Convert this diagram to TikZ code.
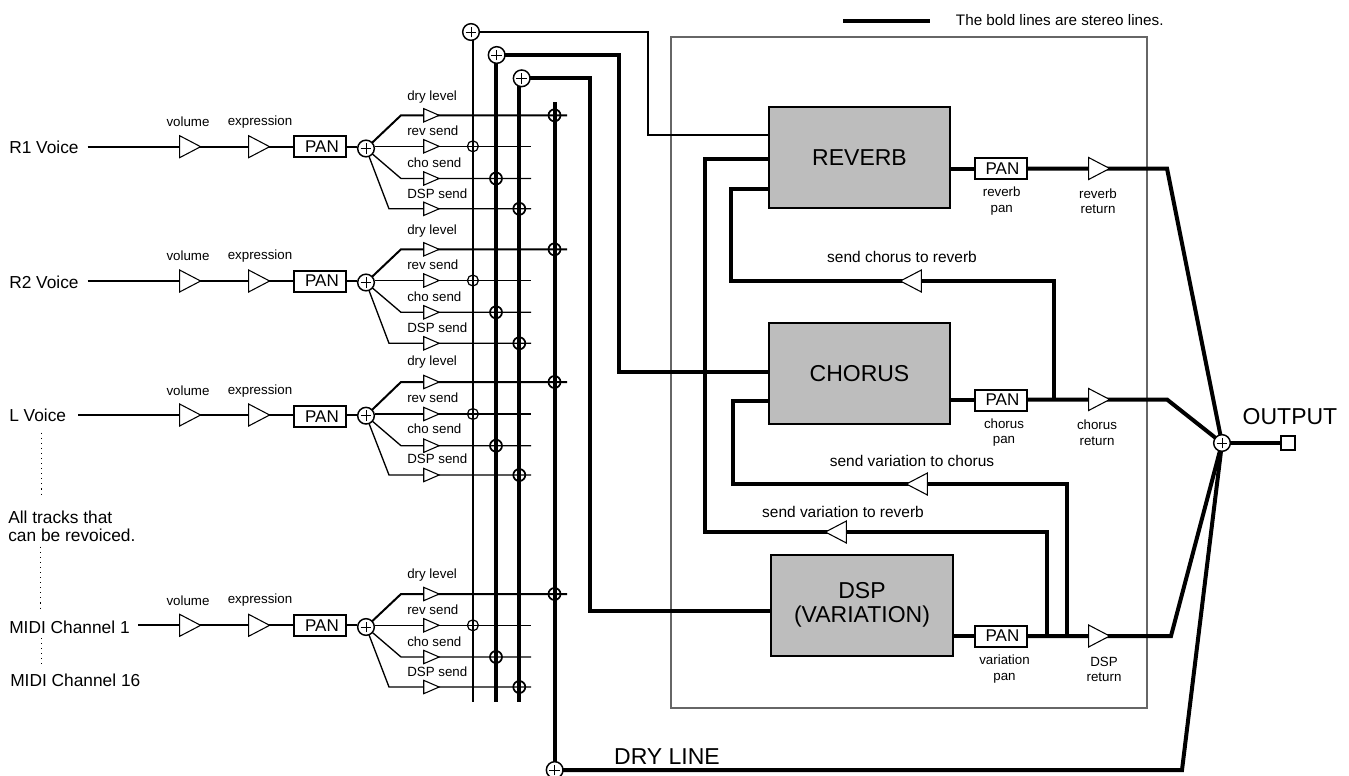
\documentclass[tikz,border=0pt]{standalone}
\usepackage{fontspec}
\setmainfont{Liberation Sans}
\usetikzlibrary{shapes.geometric,backgrounds}
\tikzset{
  bold/.style={line width=3pt,line join=miter},
  medium/.style={line width=1.5pt,line join=miter},
  fine/.style={line width=1pt,line join=miter},
  tri/.style={draw,fill=white,line width=0.8pt,shape=isosceles triangle,isosceles triangle stretches,inner sep=0pt,minimum width=16.5pt,minimum height=15.75pt,anchor=apex},
  bigtri/.style={tri,minimum width=16.5pt,minimum height=15.75pt},
  smalltri/.style={tri,minimum width=10pt,minimum height=11.5pt},
  lefttri/.style={tri,shape border rotate=180},
  plus/.style={path picture={\draw[line width=0.75pt] ([xshift=-#1pt]path picture bounding box.center)--([xshift=#1pt]path picture bounding box.center) ([yshift=-#1pt]path picture bounding box.center)--([yshift=#1pt]path picture bounding box.center);}},
  sumnode/.style={circle,draw,fill=white,line width=1.1pt,inner sep=0pt,minimum size=12.5pt,plus=4},
  cross/.style={circle,draw,line width=1.3pt,inner sep=0pt,minimum size=9pt},
  thincross/.style={circle,draw,line width=0.9pt,inner sep=0pt,minimum size=8.2pt},
  panbox/.style={draw,fill=white,line width=1.5pt,inner sep=0pt,minimum width=39pt,minimum height=15.75pt,font=\fontsize{12.75pt}{14pt}\selectfont},
  fxbox/.style={draw,fill=black!26,line width=1.5pt,inner sep=0pt,minimum width=136pt,minimum height=75.75pt,align=center,font=\fontsize{17.25pt}{18.5pt}\selectfont},
  lbl/.style={inner sep=0pt,font=\fontsize{13pt}{13.5pt}\selectfont,align=left},
  small/.style={inner sep=0pt,font=\fontsize{10pt}{11.4pt}\selectfont,align=center},
  sendlbl/.style={inner sep=0pt,anchor=west,font=\fontsize{10pt}{11pt}\selectfont},
  med/.style={inner sep=0pt,font=\fontsize{11.6pt}{13pt}\selectfont},
  big/.style={inner sep=0pt,font=\fontsize{17.25pt}{19pt}\selectfont},
  dots/.style={line width=0.7pt,dash pattern=on 0.8pt off 3pt},
}
\begin{document}
\begin{tikzpicture}[x=0.75pt,y=-0.75pt]
\useasboundingbox (0,0) rectangle (1349,775);
\clip (0,0) rectangle (1349,775);

% buses' summing points
\node[sumnode] (sumA) at (471,32) {};
\node[sumnode] (sumB) at (496.7,55) {};
\node[sumnode] (sumC) at (521.7,78.3) {};
\node[sumnode] (sumD) at (554.7,770) {};
\coordinate (busAb) at (472.7,702);
\coordinate (busBb) at (496,702);
\coordinate (busCb) at (519.3,702);
\coordinate (busDt) at (554.7,102);

% effect blocks
\node[fxbox] (reverb) at (859.5,157.5) {REVERB};
\node[fxbox] (chorus) at (859.5,373.5) {CHORUS};
\node[fxbox] (dsp) at (862,605) {DSP\\(VARIATION)};

\node[panbox] (panR) at (1000.5,168.5) {\hspace{3pt}PAN};
\node[panbox] (panC) at (1000.5,400) {\hspace{3pt}PAN};
\node[panbox] (panD) at (1000.5,636) {\hspace{3pt}PAN};
\node[small] at (1001.7,201) {reverb\\pan};
\node[small] at (1098,201) {reverb\\return};
\node[small] at (1004,432.7) {chorus\\pan};
\node[small] at (1097,432.7) {chorus\\return};
\node[small] at (1004.5,669) {variation\\pan};
\node[small] at (1104,669) {DSP\\return};

\node[bigtri] (retR) at (1111,168.5) {};
\node[bigtri] (retC) at (1111,399.5) {};
\node[bigtri] (retD) at (1111,636) {};
\node[lefttri] (sendCR) at (899,281) {};
\node[lefttri] (sendVC) at (905,484) {};
\node[lefttri] (sendVR) at (824,532) {};
\node[med] at (902,257) {send chorus to reverb};
\node[med] at (912,461) {send variation to chorus};
\node[med] at (843,512) {send variation to reverb};

\node[sumnode] (sumOut) at (1222,443) {};
\node[draw,fill=white,line width=1.5pt,inner sep=0pt,minimum size=10.5pt] (out) at (1288,443) {};
\node[big] at (1290,417) {OUTPUT};
\node[big] at (667,757) {DRY LINE};
\node[med,anchor=west,font=\fontsize{11.43pt}{13pt}\selectfont] (legend) at (955.7,20.5) {The bold lines are stereo lines.};
\coordinate (legA) at (843,21);
\coordinate (legB) at (930,21);

% left-hand notes
\node[lbl,anchor=west] at (8,526) {All tracks that\\can be revoiced.};
\node[lbl,anchor=west] at (10,680) {MIDI Channel 16};

% voice rows
\foreach \n/\ym/\yp/\ysum/\yd/\yr/\yc/\ys/\name/\xs/\ly/\off in {
 1/146.7/146.7/148.5/115.3/146.3/178.5/208.8/R1 Voice/87.5/147/0,
 2/281/281/282.5/249.3/280.5/312.3/343.3/R2 Voice/87.5/282/0,
 3/415/416.7/415.7/382/414/445.7/475/L Voice/78/415/-1,
 4/625.3/625.3/627/594/625.3/657/687/MIDI Channel 1/138/627/0}{
  \node[lbl,anchor=west] (v\n) at (9,\ly) {\name};
  \coordinate (st\n) at (\xs,\ym);
  \node[bigtri] (vol\n) at (202,\ym) {};
  \node[bigtri] (exp\n) at (271,\ym) {};
  \node[panbox,line width=1.5pt] (pan\n) at (320,\yp) {\hspace{3pt}PAN};
  \node[sumnode] (s\n) at (366,\ysum) {};
  \node[small] at (188,\ym-25-\off) {volume};
  \node[small] at (260,\ym-25-\off) {expression};
  \coordinate (kd\n) at (401,\yd);
  \coordinate (kc\n) at (401,\yc);
  \coordinate (ks\n) at (389,\ys);
  \node[smalltri] (td\n) at (440.5,\yd) {};
  \node[smalltri] (tr\n) at (440.5,\yr) {};
  \node[smalltri] (tc\n) at (440.5,\yc) {};
  \node[smalltri] (ts\n) at (440.5,\ys) {};
  \node[sendlbl] at (407,\yd-18.5+\off) {dry level};
  \node[sendlbl] at (407,\yr-15.5+\off) {rev send};
  \node[sendlbl] at (407,\yc-15.5+\off) {cho send};
  \node[sendlbl] at (407,\ys-15.5+\off) {DSP send};
  \node[cross] (xd\n) at (554.5,\yd) {};
  \node[thincross] (xr\n) at (472.9,\yr) {};
  \node[cross] (xc\n) at (496,\yc) {};
  \node[cross] (xs\n) at (519.3,\ys) {};
  \coordinate (ed\n) at (567,\yd);
  \coordinate (er\n) at (531,\yr);
  \coordinate (ec\n) at (531,\yc);
  \coordinate (es\n) at (531,\ys);
  \begin{scope}[on background layer]
    \draw[medium] (st\n) -- (vol\n.center) -- (exp\n.center) -- (pan\n.west |- st\n);
    \draw[medium] (pan\n.east |- st\n) -- (s\n.west |- st\n);
    \draw[medium] (s\n.center) -- (kd\n) -- (ed\n);
    \draw[fine] (s\n.east |- er\n) -- (er\n);
    \draw[fine] (s\n.center) -- (kc\n) -- (ec\n);
    \draw[fine] (s\n.center) -- (ks\n) -- (es\n);
  \end{scope}
}

\begin{scope}[on background layer]
  % frame
  \node[draw=black!60,line width=1.4pt,minimum width=357pt,minimum height=503pt,inner sep=0pt] (frame) at (909,372.4) {};
  % buses
  \draw[medium] (sumA.center) -- (sumA.center -| busAb) -- (busAb);
  \draw[bold] (sumB.center) -- (sumB.center -| busBb) -- (busBb);
  \draw[bold] (sumC.center) -- (sumC.center -| busCb) -- (busCb);
  \draw[bold] (busDt) -- (sumD.center);
  \draw[medium] (sumA.center) -- (648,32) -- (648,134.5) -- (reverb.west |- 0,134.5);
  \draw[bold] (sumB.center) -- (619,55) -- (619,372) -- (chorus.west |- 0,372);
  \draw[bold] (sumC.center) -- (590,78.3) -- (590,610.7) -- (dsp.west |- 0,610.7);
  % returns
  \draw[bold] (reverb.east |- panR) -- (panR);
  \draw[bold] (panR) -- (retR.center) -- (1167,168.5) -- (sumOut.center);
  \draw[bold] (chorus.east |- 0,399.5) -- (panC.west |- 0,399.5);
  \draw[bold] (panC.east |- 0,399.5) -- (retC.center) -- (1167,399.5) -- (sumOut.center);
  \draw[bold] (dsp.east |- panD) -- (panD);
  \draw[bold] (panD) -- (retD.center) -- (1171,636) -- (sumOut.center);
  \draw[bold] (sumD.center) -- (1182,770) -- (sumOut.center);
  \draw[bold] (sumOut.center) -- (out);
  % feedback sends
  \draw[bold] (1054,399.5) -- (1054,281) -- (sendCR.center) -- (731,281) -- (731,189) -- (reverb.west |- 0,189);
  \draw[bold] (1067,636) -- (1067,484) -- (sendVC.center) -- (732.5,484) -- (732.5,401) -- (chorus.west |- 0,401);
  \draw[bold] (1047,636) -- (1047,532) -- (sendVR.center) -- (705,532) -- (705,158.5) -- (reverb.west |- 0,158.5);
  \draw[bold] (legA) -- (legB);
\end{scope}

% dotted lines
\foreach \a/\b/\c/\d in {41.3/432.7/41.3/498, 40.7/546.7/40.7/612, 41/638/41/665}
  \draw[dots] (\a,\b) -- (\c,\d);
\end{tikzpicture}
\end{document}
